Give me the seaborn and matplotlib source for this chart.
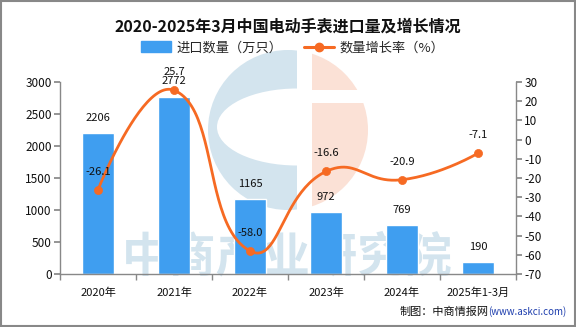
import numpy as np
import pandas as pd
import matplotlib
matplotlib.use("Agg")
import matplotlib.pyplot as plt
import seaborn as sns
from matplotlib.patches import Patch, Rectangle, Circle, Ellipse
from matplotlib.lines import Line2D

categories = ["2020年", "2021年", "2022年", "2023年", "2024年", "2025年1-3月"]
volume = [2206, 2772, 1165, 972, 769, 190]
growth = [-26.1, 25.7, -58.0, -16.6, -20.9, -7.1]

title = "2020-2025年3月中国电动手表进口量及增长情况"
bar_label = "进口数量（万只）"
line_label = "数量增长率（%）"
watermark = "中商产业研究院"

BAR_C = "#3f9ef0"
LINE_C = "#f66a23"
WM_BLUE = "#d3e4ee"
WM_PEACH = "#fbe1d6"

sns.set_theme(style="white")
plt.rcParams['font.family'] = ['Noto Sans CJK SC', 'DejaVu Sans']
plt.rcParams['axes.unicode_minus'] = False

W, H = 576, 327
fig = plt.figure(figsize=(W/100, H/100), dpi=100)

# background layer in pixel coordinates (watermark + logo)
bg = fig.add_axes([0, 0, 1, 1], zorder=0)
bg.set_xlim(0, W); bg.set_ylim(H, 0); bg.axis("off")
cx, cy, r = 288, 130, 80
c1 = Circle((cx, cy), r, color=WM_BLUE, lw=0)
bg.add_patch(c1)
c1.set_clip_path(Rectangle((cx - r - 2, cy - r - 2), 297 - (cx - r - 2), 2*r + 4, transform=bg.transData))
hole = Ellipse((297, 127), 160, 77, color="white", lw=0)
bg.add_patch(hole)
hole.set_clip_path(Rectangle((200, 80), 100, 100, transform=bg.transData))
c2 = Circle((cx, cy), r, color=WM_PEACH, lw=0)
bg.add_patch(c2)
c2.set_clip_path(Rectangle((312, cy - r - 2), 80, 2*r + 4, transform=bg.transData))
bg.add_patch(Rectangle((310, 90), 70, 13, color="white", lw=0))
bg.text(287, 257, watermark, fontsize=34, color=WM_BLUE, ha="center", va="center",
        fontweight="bold")

ax = fig.add_axes([60/W, 1-274/H, (516-60)/W, (274-82)/H], zorder=1)
ax.set_facecolor("none")

df = pd.DataFrame({"cat": categories, "vol": volume, "gr": growth})

sns.barplot(data=df, x="cat", y="vol", color=BAR_C, width=0.41, ax=ax,
            saturation=1, zorder=2)
ax.set_xlim(-0.5, len(categories)-0.5)
ax.set_ylim(0, 3000)
ax.set_yticks(np.arange(0, 3001, 500))
ax.set_xlabel("")
ax.set_ylabel("")
for i, v in enumerate(volume):
    ax.annotate(f"{v}", (i, v), xytext=(0, 11), textcoords="offset points",
                ha="center", va="center", fontsize=8, color="#111")

ax2 = ax.twinx()
ax2.set_ylim(-70, 30)
ax2.set_yticks(np.arange(-70, 31, 10))

# echarts-like smooth bezier through the data points (computed in pixel scale)
sx = (516 - 60) / len(categories)
sy = 192 / 100.0
P = np.column_stack([np.arange(len(growth)) * sx, np.array(growth) * sy])
smooth = 0.5
n = len(P)
cps = []
for i in range(n):
    if i == 0 or i == n - 1:
        cps.append((P[i], P[i]))
        continue
    v = (P[i+1] - P[i-1]) * smooth
    d0 = np.linalg.norm(P[i] - P[i-1]); d1 = np.linalg.norm(P[i+1] - P[i])
    s = d0 + d1
    d0 /= s; d1 /= s
    cps.append((P[i] - v * d0, P[i] + v * d1))
pts = []
t = np.linspace(0, 1, 50)[:, None]
for i in range(n - 1):
    p0 = P[i]; p1 = cps[i][1]; p2 = cps[i+1][0]; p3 = P[i+1]
    seg = (1-t)**3*p0 + 3*(1-t)**2*t*p1 + 3*(1-t)*t**2*p2 + t**3*p3
    pts.append(seg)
pts = np.vstack(pts)
ax2.plot(pts[:, 0] / sx, pts[:, 1] / sy, color=LINE_C, lw=2.0, zorder=3,
         solid_capstyle="round")
sns.scatterplot(x=np.arange(n), y=growth, color=LINE_C, s=34, ax=ax2, zorder=4,
                edgecolor=LINE_C, linewidth=0.5)
for i, v in enumerate(growth):
    ax2.annotate(f"{v:.1f}", (i, v), xytext=(0, 13), textcoords="offset points",
                 ha="center", va="center", fontsize=8, color="#111")

for a_ in (ax, ax2):
    for s_ in a_.spines.values():
        s_.set_visible(False)
ax.spines["left"].set_visible(True)
ax.spines["bottom"].set_visible(True)
ax2.spines["right"].set_visible(True)
for s_ in (ax.spines["left"], ax.spines["bottom"], ax2.spines["right"]):
    s_.set_color("#888888"); s_.set_linewidth(1)

ax.tick_params(axis="y", which="both", left=True, length=4, color="#888888",
               labelsize=8.5, labelcolor="#111", pad=2)
ax2.tick_params(axis="y", right=True, length=4, color="#888888",
                labelsize=8.5, labelcolor="#111", pad=2)
ax.tick_params(axis="x", which="major", bottom=False, labelsize=8, labelcolor="#111", pad=4)
ax.set_xticks(np.arange(-0.5, len(categories), 1), minor=True)
ax.tick_params(axis="x", which="minor", bottom=True, length=4, color="#888888")
ax2.grid(False); ax.grid(False)

fig.text(0.5, 1-27/H, title, ha="center", va="center", fontsize=11.5,
         fontweight="bold", color="#111")

handles = [Patch(facecolor=BAR_C, edgecolor=BAR_C),
           Line2D([0], [0], color=LINE_C, lw=2.2, marker="o", markersize=6)]
fig.legend(handles, [bar_label, line_label], loc="center",
           bbox_to_anchor=(0.508, 1-48/H), ncol=2, frameon=False, fontsize=9.5,
           handlelength=2.3, handleheight=0.9, columnspacing=1.6, handletextpad=0.4)

fig.text(0.848, 1-312/H, "制图：中商情报网", ha="right", va="center", fontsize=8, color="#111")
fig.text(0.848, 1-312/H, "(www.askci.com)", ha="left", va="center", fontsize=7, color="#1f3fae")

fig.patches.append(Rectangle((0.001, 0.002), 0.997, 0.995, transform=fig.transFigure,
                             fill=False, edgecolor="#888888", lw=1.5))

fig.savefig("out.png", dpi=100)
